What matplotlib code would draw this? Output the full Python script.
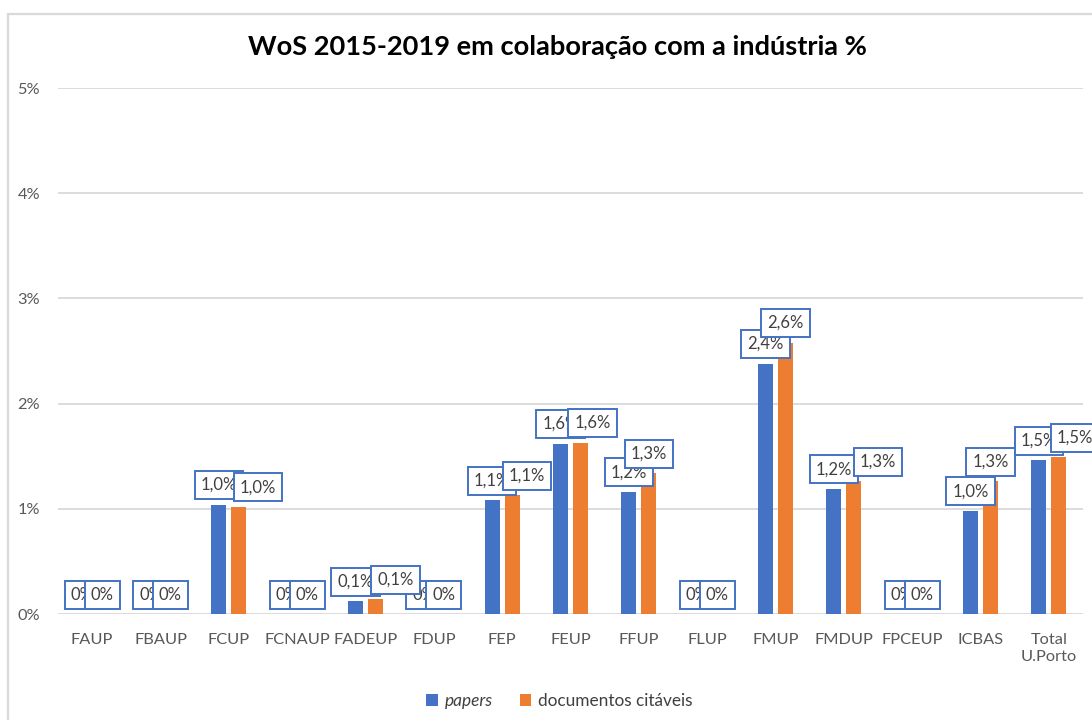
import matplotlib
matplotlib.use("Agg")
import matplotlib.pyplot as plt
from matplotlib.patches import Rectangle, Patch
from matplotlib.ticker import FuncFormatter

# ---- data ----
categories = ["FAUP", "FBAUP", "FCUP", "FCNAUP", "FADEUP", "FDUP", "FEP", "FEUP",
              "FFUP", "FLUP", "FMUP", "FMDUP", "FPCEUP", "ICBAS", "Total\nU.Porto"]
papers = [0.0, 0.0, 0.0104, 0.0, 0.0012, 0.0, 0.0108, 0.0162,
          0.0116, 0.0, 0.0238, 0.0119, 0.0, 0.0098, 0.0146]
docs = [0.0, 0.0, 0.0102, 0.0, 0.0014, 0.0, 0.0113, 0.0163,
        0.0134, 0.0, 0.0258, 0.0126, 0.0, 0.0126, 0.0149]
series_names = ["papers", "documentos citáveis"]
yticks = [0.0, 0.01, 0.02, 0.03, 0.04, 0.05]
title = "WoS 2015-2019 em colaboração com a indústria %"

# manual horizontal nudges (pixels) of the orange data labels, as placed in the original
orange_label_nudge_px = [0, 0, 19, 0, 20, 0, 15, 12, 0, 0, 0, 24, 0, 0, 16]

# ---- style ----
BLUE = "#4472C4"
ORANGE = "#ED7D31"
GRID = "#D9D9D9"
TICK = "#595959"
TXT = "#404040"
FONT = ["Lato", "DejaVu Sans"]
plt.rcParams["font.family"] = FONT

W, H, DPI = 1092, 720, 100
fig = plt.figure(figsize=(W / DPI, H / DPI), dpi=DPI)
fig.patch.set_facecolor("white")

# chart border (cropped on right/bottom)
fig.patches.append(Rectangle((8 / W, -0.1), 1.2, (H - 13.5) / H + 0.1, transform=fig.transFigure,
                             fill=False, edgecolor=GRID, linewidth=1.6))

left, right, bottom, top = 58, 1083, 614, 88
ax = fig.add_axes([left / W, 1 - bottom / H, (right - left) / W, (bottom - top) / H])

x = list(range(len(categories)))
bw = 0.22
off = 0.145
xb = [i - off for i in x]
xo = [i + off for i in x]
ax.bar(xb, papers, width=bw, color=BLUE, zorder=2, label=series_names[0])
ax.bar(xo, docs, width=bw, color=ORANGE, zorder=2, label=series_names[1])

ax.set_xlim(-0.5, len(categories) - 0.5)
ax.set_ylim(0, 0.05)
ax.set_yticks(yticks)
ax.yaxis.set_major_formatter(FuncFormatter(lambda v, p: f"{v*100:.0f}%"))
ax.set_xticks(x)
ax.set_xticklabels(categories, linespacing=1.25)
ax.tick_params(axis="both", length=0, colors=TICK, labelsize=11.8)
ax.tick_params(axis="x", pad=14)
ax.tick_params(axis="y", pad=13)
for s in ax.spines.values():
    s.set_visible(False)
ax.grid(axis="y", color=GRID, linewidth=1.3, zorder=0)
ax.set_axisbelow(True)


def fmt(v):
    if v == 0:
        return "0%"
    return f"{v*100:.1f}%".replace(".", ",")


px2pt = 72 / DPI
box = dict(boxstyle="square,pad=0.36", facecolor="white", edgecolor=BLUE, linewidth=1.4)
for i in x:
    ax.annotate(fmt(papers[i]), (xb[i], papers[i]), xytext=(0, 11.5 * px2pt),
                textcoords="offset points", ha="center", va="bottom", fontsize=12,
                color=TXT, bbox=box, zorder=5, annotation_clip=False)
for i in x:
    ax.annotate(fmt(docs[i]), (xo[i], docs[i]),
                xytext=(orange_label_nudge_px[i] * px2pt, 11.5 * px2pt),
                textcoords="offset points", ha="center", va="bottom", fontsize=12,
                color=TXT, bbox=box, zorder=6, annotation_clip=False)

fig.text(557.5 / W, 1 - 47 / H, title, ha="center", va="center",
         fontsize=19.6, fontweight="bold", color="black")

handles = [Patch(facecolor=BLUE), Patch(facecolor=ORANGE)]
leg = fig.legend(handles, series_names, loc="center", bbox_to_anchor=(559.5 / W, 1 - 701 / H),
                 ncol=2, frameon=False, fontsize=12.4, handlelength=0.65, handleheight=0.65,
                 handletextpad=0.4, columnspacing=1.6)
for t in leg.get_texts():
    t.set_color(TXT)
leg.get_texts()[0].set_style("italic")

fig.savefig("out.png", dpi=DPI, facecolor="white")
